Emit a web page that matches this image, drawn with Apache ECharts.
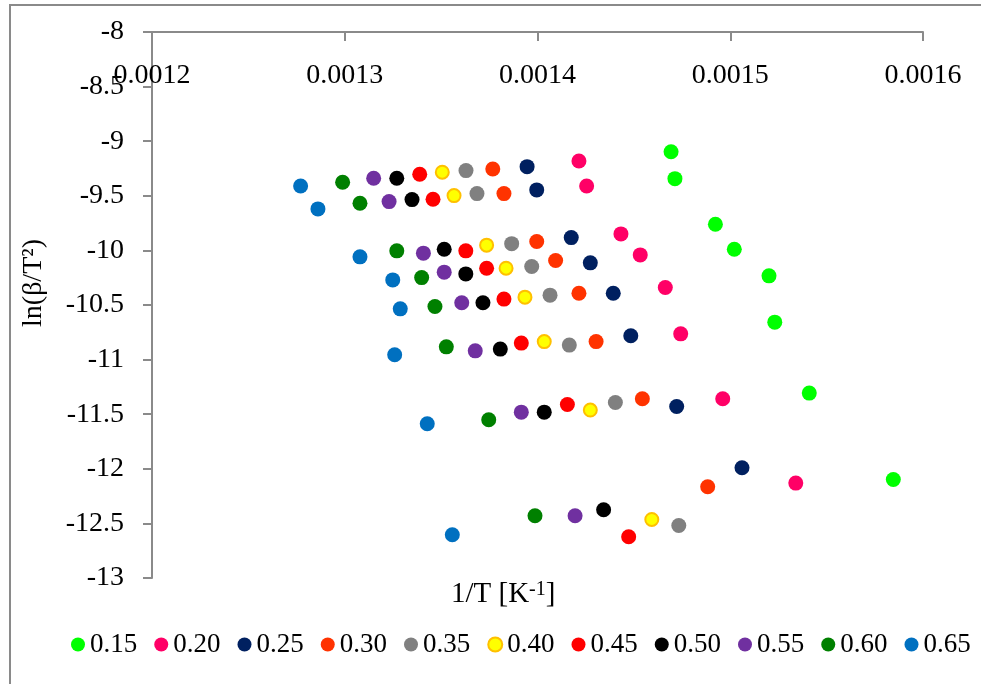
<!DOCTYPE html>
<html>
<head>
<meta charset="utf-8">
<script src="https://cdn.jsdelivr.net/npm/echarts@6/dist/echarts.min.js"></script>
<style>
html,body{margin:0;padding:0;background:#fff;}
#chart{width:981px;height:684px;}
</style>
</head>
<body>
<div id="chart"></div>
<script>
// Series labels (legend)
const seriesNames = ['0.15','0.20','0.25','0.30','0.35','0.40','0.45','0.50','0.55','0.60','0.65'];
const seriesColors = ['#00FF00','#FF0066','#002060','#FF3300','#808080','#FFFF00','#FF0000','#000000','#7030A0','#008000','#0070C0'];

// 1/T values [K^-1] per series
const x015 = [0.0014693,0.0014713,0.0014923,0.0015021,0.0015201,0.0015231,0.0015410,0.0015846];
const x020 = [0.0014215,0.0014255,0.0014433,0.0014533,0.0014663,0.0014743,0.0014961,0.0015340];
const x025 = [0.0013946,0.0013996,0.0014175,0.0014274,0.0014393,0.0014484,0.0014722,0.0015061];
const x030 = [0.0013768,0.0013826,0.0013996,0.0014094,0.0014215,0.0014304,0.0014544,0.0014883];
const x035 = [0.0013629,0.0013686,0.0013866,0.0013970,0.0014065,0.0014165,0.0014404,0.0014733];
const x040 = [0.0013506,0.0013567,0.0013736,0.0013837,0.0013935,0.0014035,0.0014274,0.0014593];
const x045 = [0.0013389,0.0013458,0.0013628,0.0013736,0.0013826,0.0013916,0.0014155,0.0014473];
const x050 = [0.0013270,0.0013349,0.0013516,0.0013628,0.0013717,0.0013807,0.0014035,0.0014343];
const x055 = [0.0013150,0.0013230,0.0013408,0.0013516,0.0013607,0.0013677,0.0013916,0.0014195];
const x060 = [0.0012989,0.0013079,0.0013270,0.0013399,0.0013468,0.0013527,0.0013747,0.0013987];
const x065 = [0.0012771,0.0012861,0.0013079,0.0013249,0.0013288,0.0013259,0.0013428,0.0013558];

// ln(beta/T^2) values per series
const y015 = [-9.096,-9.343,-9.760,-9.989,-10.233,-10.657,-11.307,-12.098];
const y020 = [-9.181,-9.410,-9.849,-10.041,-10.340,-10.764,-11.359,-12.131];
const y025 = [-9.233,-9.446,-9.883,-10.114,-10.392,-10.782,-11.429,-11.991];
const y030 = [-9.254,-9.480,-9.919,-10.093,-10.392,-10.835,-11.359,-12.164];
const y035 = [-9.269,-9.480,-9.938,-10.148,-10.410,-10.867,-11.393,-12.519];
const y040 = [-9.284,-9.498,-9.952,-10.163,-10.428,-10.835,-11.462,-12.464];
const y045 = [-9.302,-9.531,-10.004,-10.163,-10.446,-10.849,-11.411,-12.622];
const y050 = [-9.339,-9.535,-9.989,-10.215,-10.480,-10.904,-11.481,-12.375];
const y055 = [-9.339,-9.553,-10.025,-10.199,-10.480,-10.920,-11.481,-12.430];
const y060 = [-9.376,-9.568,-10.004,-10.249,-10.514,-10.883,-11.551,-12.430];
const y065 = [-9.410,-9.620,-10.059,-10.270,-10.535,-10.956,-11.588,-12.604];

// Axis ticks
const xTicks = [0.0012,0.0013,0.0014,0.0015,0.0016];
const yTicks = [-13,-12.5,-12,-11.5,-11,-10.5,-10,-9.5,-9,-8.5,-8];

const xs = [x015,x020,x025,x030,x035,x040,x045,x050,x055,x060,x065];
const ys = [y015,y020,y025,y030,y035,y040,y045,y050,y055,y060,y065];

const FONT = '"Liberation Serif","Times New Roman",serif';
const AXIS_COLOR = '#8a8a8a';

const series = seriesNames.map((name, i) => ({
  name: name,
  type: 'scatter',
  symbol: 'circle',
  symbolSize: name === '0.40' ? 13 : 15,
  data: xs[i].map((x, k) => [x, ys[i][k]]),
  itemStyle: name === '0.40'
    ? { color: seriesColors[i], borderColor: '#FFC000', borderWidth: 2, opacity: 1 }
    : { color: seriesColors[i], opacity: 1 },
  emphasis: { disabled: true }
}));

const chart = echarts.init(document.getElementById('chart'), null, { renderer: 'canvas' });
chart.setOption({
  animation: false,
  backgroundColor: '#ffffff',
  grid: { left: 152, right: 58, top: 32, bottom: 106, containLabel: false },
  xAxis: {
    type: 'value',
    position: 'top',
    min: xTicks[0],
    max: xTicks[xTicks.length - 1],
    interval: 0.0001,
    splitLine: { show: false },
    axisLine: { show: true, onZero: false, lineStyle: { color: AXIS_COLOR, width: 2 } },
    axisTick: { show: true, inside: true, length: 9, lineStyle: { color: AXIS_COLOR, width: 2 } },
    axisLabel: {
      inside: true, margin: 25,
      fontFamily: FONT, fontSize: 28, color: '#000',
      lineHeight: 38,
      formatter: v => v.toFixed(4)
    }
  },
  yAxis: {
    type: 'value',
    min: yTicks[0],
    max: yTicks[yTicks.length - 1],
    interval: 0.5,
    name: 'ln(β/T²)',
    nameLocation: 'middle',
    nameGap: 104,
    nameRotate: 90,
    nameTextStyle: { fontFamily: FONT, fontSize: 28, color: '#000', padding: [0, 0, 0, 44] },
    splitLine: { show: false },
    axisLine: { show: true, onZero: false, lineStyle: { color: AXIS_COLOR, width: 2 } },
    axisTick: { show: true, inside: false, length: 9, lineStyle: { color: AXIS_COLOR, width: 2 } },
    axisLabel: { margin: 28, fontFamily: FONT, fontSize: 28, color: '#000' }
  },
  legend: {
    data: seriesNames,
    left: 66,
    top: 626,
    orient: 'horizontal',
    itemWidth: 14,
    itemHeight: 14,
    itemGap: 17,
    icon: 'circle',
    textStyle: { fontFamily: FONT, fontSize: 27, color: '#000', padding: [0, 0, 0, 0] },
    selectedMode: false
  },
  graphic: [
    {
      type: 'rect', silent: true, z: -1,
      shape: { x: 10, y: 5, width: 1000, height: 720 },
      style: { fill: 'none', stroke: AXIS_COLOR, lineWidth: 2 }
    },
    {
      type: 'text', silent: true,
      left: 451, top: 580,
      style: {
        text: '1/T [K{sup|-1}]',
        fontFamily: FONT, fontSize: 29, fill: '#000',
        rich: { sup: { fontFamily: FONT, fontSize: 20, fill: '#000', verticalAlign: 'top', lineHeight: 18 } }
      }
    }
  ],
  series: series
});
</script>
</body>
</html>
